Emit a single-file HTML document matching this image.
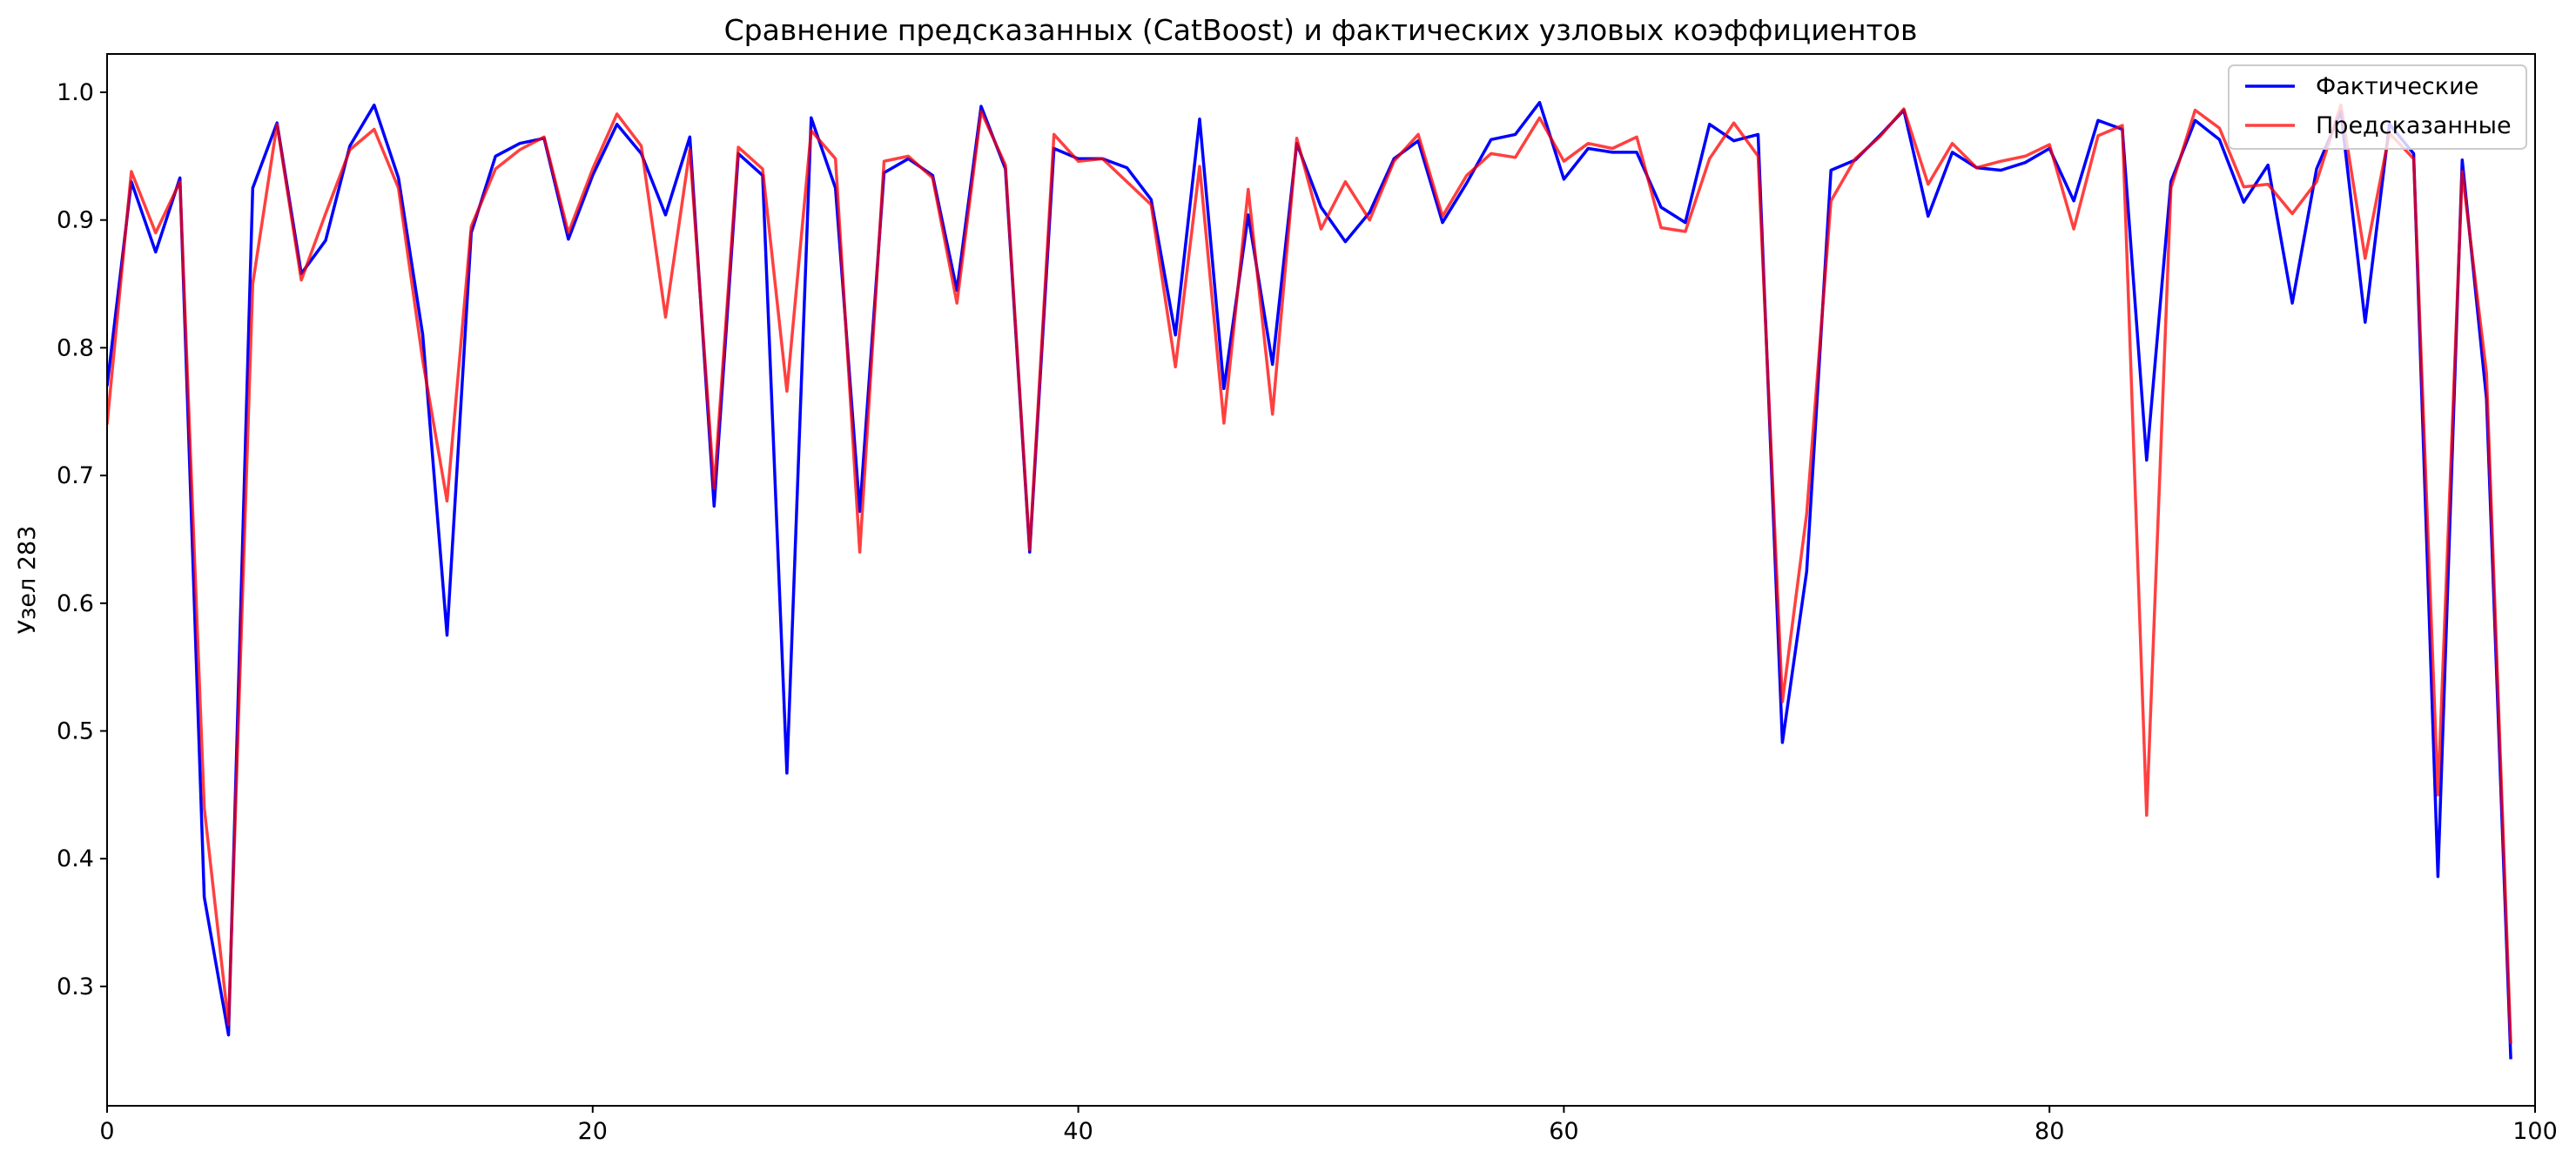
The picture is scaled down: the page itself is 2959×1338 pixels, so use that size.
<!DOCTYPE html>
<html><head><meta charset="utf-8"><style>
body{margin:0;background:#fff}
svg{display:block;font-family:"DejaVu Sans","Liberation Sans",sans-serif}
</style></head><body>
<svg id="chart" xmlns="http://www.w3.org/2000/svg" width="2959" height="1338" viewBox="0 0 2959 1338">
<rect width="2959" height="1338" fill="#fff"/>
<text x="1517" y="46" text-anchor="middle" font-size="33">Сравнение предсказанных (CatBoost) и фактических узловых коэффициентов</text>
<text transform="translate(40,666) rotate(-90)" text-anchor="middle" font-size="27">Узел 283</text>
<g id="grid"></g>
<g id="series"></g>
<rect x="123" y="62" width="2789" height="1208" fill="none" stroke="#000" stroke-width="2"/>
<g id="axes"></g>
<g>
<rect x="2560" y="75" width="342" height="96" rx="6" fill="#fff" fill-opacity="0.8" stroke="#ccc" stroke-width="2"/>
<g>
<line x1="2579" y1="99" x2="2636" y2="99" stroke="#0000ff" stroke-width="3.5"/>
<text x="2660" y="108" font-size="27">Фактические</text></g>
<g>
<line x1="2579" y1="144" x2="2636" y2="144" stroke="#ff0000" stroke-opacity="0.75" stroke-width="3.5"/>
<text x="2660" y="153" font-size="27">Предсказанные</text></g>
</g>
</svg>
<script>
const actual = [0.77,0.93,0.875,0.933,0.37,0.262,0.925,0.976,0.858,0.884,0.958,0.99,0.933,0.81,0.575,0.89,0.95,0.96,0.964,0.885,0.935,0.975,0.952,0.904,0.965,0.676,0.952,0.935,0.467,0.98,0.925,0.672,0.937,0.948,0.935,0.845,0.989,0.94,0.64,0.956,0.948,0.948,0.941,0.916,0.81,0.979,0.768,0.904,0.787,0.96,0.91,0.883,0.906,0.948,0.962,0.898,0.929,0.963,0.967,0.992,0.932,0.956,0.953,0.953,0.91,0.898,0.975,0.962,0.967,0.491,0.625,0.939,0.947,0.966,0.986,0.903,0.953,0.941,0.939,0.945,0.956,0.915,0.978,0.971,0.712,0.93,0.978,0.963,0.914,0.943,0.835,0.94,0.985,0.82,0.975,0.952,0.386,0.947,0.76,0.243];
const predicted = [0.74,0.938,0.89,0.93,0.44,0.27,0.85,0.975,0.853,0.905,0.955,0.971,0.925,0.79,0.68,0.895,0.94,0.955,0.965,0.89,0.94,0.983,0.958,0.824,0.955,0.69,0.957,0.94,0.766,0.97,0.948,0.64,0.946,0.95,0.933,0.835,0.985,0.943,0.642,0.967,0.946,0.948,0.93,0.912,0.785,0.942,0.741,0.924,0.748,0.964,0.893,0.93,0.9,0.946,0.967,0.903,0.935,0.952,0.949,0.98,0.946,0.96,0.956,0.965,0.894,0.891,0.948,0.976,0.95,0.523,0.67,0.915,0.948,0.965,0.987,0.928,0.96,0.941,0.946,0.95,0.959,0.893,0.966,0.974,0.434,0.925,0.986,0.972,0.926,0.928,0.905,0.93,0.99,0.87,0.968,0.948,0.45,0.938,0.78,0.255];
const xTicks = [0,20,40,60,80,100];
const yTicks = [0.3,0.4,0.5,0.6,0.7,0.8,0.9,1.0];

const NS='http://www.w3.org/2000/svg';
const X0=123,X1=2912,XMIN=0,XMAX=100;
const Y1V=1.0,Y1P=106,PX_PER=1467;
function xs(i){return X0+(i-XMIN)/(XMAX-XMIN)*(X1-X0);}
function ys(v){return Y1P+(Y1V-v)*PX_PER;}
function mk(tag,attrs){const e=document.createElementNS(NS,tag);for(const k in attrs)e.setAttribute(k,attrs[k]);return e;}

const series=document.getElementById('series');
const clip=mk('clipPath',{id:'pc'});clip.appendChild(mk('rect',{x:123,y:62,width:2789,height:1208}));
series.appendChild(clip);
function line(data,color,op,name){
  const p=mk('polyline',{points:data.map((v,i)=>xs(i).toFixed(1)+','+ys(v).toFixed(1)).join(' '),fill:'none',stroke:color,'stroke-opacity':op,'stroke-width':3.5,'stroke-linejoin':'round','clip-path':'url(#pc)'});
  
  
  series.appendChild(p);
}
line(actual,'#0000ff',1,'actual-line');
line(predicted,'#ff0000',0.75,'predicted-line');

const axes=document.getElementById('axes');
xTicks.forEach(t=>{
  const x=xs(t);
  const g=mk('g',{});
  
  
  g.appendChild(mk('line',{x1:x,y1:1270,x2:x,y2:1278,stroke:'#000','stroke-width':2}));
  const tx=mk('text',{x:x,y:1308,'text-anchor':'middle','font-size':27});tx.textContent=String(t);
  g.appendChild(tx);axes.appendChild(g);
});
yTicks.forEach(t=>{
  const y=ys(t);
  const g=mk('g',{});
  
  
  g.appendChild(mk('line',{x1:115,y1:y,x2:123,y2:y,stroke:'#000','stroke-width':2}));
  const tx=mk('text',{x:108,y:y+9,'text-anchor':'end','font-size':27});tx.textContent=t.toFixed(1);
  g.appendChild(tx);axes.appendChild(g);
});
</script>
</body></html>
